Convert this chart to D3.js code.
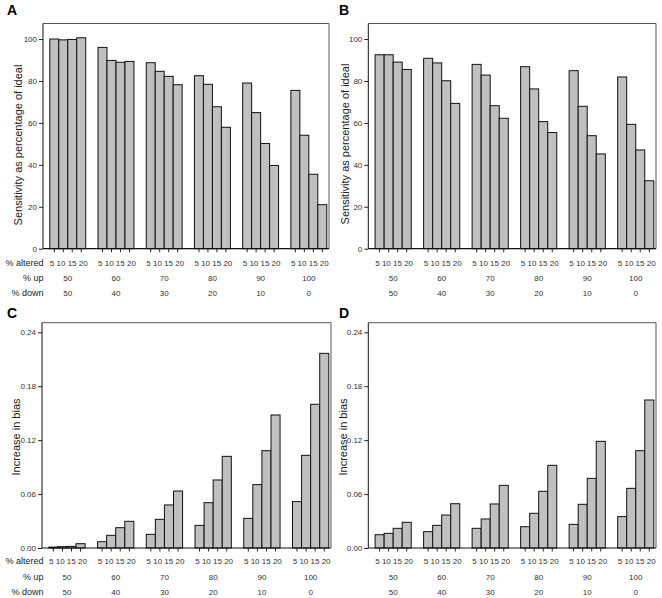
<!DOCTYPE html>
<html><head><meta charset="utf-8">
<script src="https://cdn.jsdelivr.net/npm/d3@7"></script>
<style>
body{margin:0;background:#fff;}
svg{display:block;font-family:"Liberation Sans",Arial,sans-serif;}
</style></head>
<body>
<svg id="c" width="662" height="598"></svg>
<script>
const altered = [5, 10, 15, 20];
const pctUp = [50, 60, 70, 80, 90, 100];
const pctDown = [50, 40, 30, 20, 10, 0];

// Sensitivity as percentage of ideal (A, B); rows = % up groups, cols = % altered
const sensA = [
  [100.0, 99.6, 99.8, 100.6],
  [96.0, 89.8, 88.9, 89.3],
  [88.7, 84.6, 82.2, 78.2],
  [82.5, 78.4, 67.7, 57.9],
  [79.0, 64.9, 50.2, 39.7],
  [75.5, 54.1, 35.5, 21.0]
];
const sensB = [
  [92.5, 92.5, 89.0, 85.5],
  [90.8, 88.6, 80.1, 69.3],
  [87.9, 82.8, 68.2, 62.2],
  [86.8, 76.2, 60.6, 55.4],
  [84.9, 67.9, 53.9, 45.2],
  [81.9, 59.3, 47.1, 32.4]
];
// Increase in bias (C, D)
const biasC = [
  [0.0010, 0.0015, 0.0018, 0.0048],
  [0.0070, 0.0141, 0.0226, 0.0297],
  [0.0152, 0.0319, 0.0479, 0.0634],
  [0.0252, 0.0504, 0.0757, 0.1020],
  [0.0330, 0.0705, 0.1083, 0.1480],
  [0.0516, 0.1031, 0.1599, 0.2166]
];
const biasD = [
  [0.0148, 0.0163, 0.0219, 0.0286],
  [0.0182, 0.0252, 0.0367, 0.0493],
  [0.0219, 0.0323, 0.0490, 0.0697],
  [0.0237, 0.0386, 0.0631, 0.0920],
  [0.0263, 0.0486, 0.0775, 0.1187],
  [0.0349, 0.0664, 0.1083, 0.1647]
];
const sensTicks = [0, 20, 40, 60, 80, 100];
const biasTicks = [0, 0.06, 0.12, 0.18, 0.24];

const svg = d3.select("#c");

const panels = [
  {letter:"A", data:sensA, x0:43, x1:329, y0:23.5, y1:248.7, ymax:107.4, ticks:sensTicks, fmt:d3.format("d"),
   title:"Sensitivity as percentage of ideal", tx:18, ty:145, rowLabels:true, lx:7, ly:15, rowY:[265.5,280.5,296]},
  {letter:"B", data:sensB, x0:368.3, x1:656, y0:23.5, y1:248.7, ymax:107.4, ticks:sensTicks, fmt:d3.format("d"),
   title:"Sensitivity as percentage of ideal", tx:345, ty:144, rowLabels:false, lx:339, ly:15, rowY:[265.5,280.5,296]},
  {letter:"C", data:biasC, x0:42, x1:331, y0:322.7, y1:548, ymax:0.2507, ticks:biasTicks, fmt:d3.format(".2f"),
   title:"Increase in bias", tx:16, ty:437, rowLabels:true, lx:7, ly:318, rowY:[563.5,579.5,594.5]},
  {letter:"D", data:biasD, x0:368.3, x1:656, y0:322.7, y1:548, ymax:0.2507, ticks:biasTicks, fmt:d3.format(".2f"),
   title:"Increase in bias", tx:343, ty:437, rowLabels:false, lx:339, ly:318, rowY:[563.5,579.5,594.5]}
];

panels.forEach(p => {
  const g = svg.append("g");
  const y = d3.scaleLinear().domain([0, p.ymax]).range([p.y1, p.y0]);
  const xg = d3.scaleBand().domain(pctUp).range([p.x0 + 6.8, p.x1 - 2.2]).paddingInner(0.255).paddingOuter(0);
  const xb = d3.scaleBand().domain(altered).range([0, xg.bandwidth()]).padding(0);

  // frame (top & right)
  g.append("path")
    .attr("d", `M${p.x0},${p.y0}H${p.x1}V${p.y1}`)
    .attr("fill","none").attr("stroke","#555").attr("stroke-width",1);

  // bars
  p.data.forEach((row, gi) => {
    g.selectAll(null).data(row).enter().append("rect")
      .attr("x", (d,i) => xg(pctUp[gi]) + xb(altered[i]))
      .attr("y", d => y(d))
      .attr("width", xb.bandwidth())
      .attr("height", d => y(0) - y(d))
      .attr("fill", "#c0c0c0")
      .attr("stroke", "#111")
      .attr("stroke-width", 1);
  });

  // y axis
  const ya = g.append("g").attr("transform", `translate(${p.x0},0)`)
    .call(d3.axisLeft(y).tickValues(p.ticks).tickFormat(p.fmt).tickSize(4).tickPadding(2));
  ya.select(".domain").attr("d", `M0,${p.y1}V${p.y0}`).attr("stroke","#111");
  ya.selectAll("text").attr("font-size", 8).attr("fill","#333").attr("font-family","Liberation Sans, Arial, sans-serif");
  ya.selectAll(".tick line").attr("stroke","#222");

  // bottom axis line
  g.append("line").attr("x1", p.x0).attr("x2", p.x1).attr("y1", p.y1).attr("y2", p.y1)
    .attr("stroke","#111").attr("stroke-width",1.2);
  // bottom ticks at bar centers
  pctUp.forEach(u => {
    altered.forEach(a => {
      const cx = xg(u) + xb(a) + xb.bandwidth()/2;
      g.append("line").attr("x1", cx).attr("x2", cx).attr("y1", p.y1).attr("y2", p.y1 + 3.5)
        .attr("stroke","#222");
    });
    const gc = xg(u) + xg.bandwidth()/2;
    g.append("text").attr("x", gc + 1).attr("y", p.rowY[0]).attr("text-anchor","middle")
      .attr("font-size", 8).attr("fill","#333").text(altered.join(" "));
  });
  pctUp.forEach((u,i) => {
    const gc = xg(u) + xg.bandwidth()/2;
    g.append("text").attr("x", gc).attr("y", p.rowY[1]).attr("text-anchor","middle")
      .attr("font-size", 8).attr("fill","#333").text(u);
    g.append("text").attr("x", gc).attr("y", p.rowY[2]).attr("text-anchor","middle")
      .attr("font-size", 8).attr("fill","#333").text(pctDown[i]);
  });

  if (p.rowLabels) {
    const rl = ["% altered", "% up", "% down"];
    rl.forEach((t,i) => {
      g.append("text").attr("x", 43.5).attr("y", p.rowY[i]).attr("text-anchor","end")
        .attr("font-size", 9).attr("fill","#222").text(t);
    });
  }

  // y title
  g.append("text").attr("transform", `translate(${p.tx},${p.ty}) rotate(-90)`)
    .attr("text-anchor","middle").attr("dy","0.35em")
    .attr("font-size", 11).attr("fill","#222").text(p.title);

  // panel letter
  g.append("text").attr("x", p.lx).attr("y", p.ly).attr("font-size", 14).attr("font-weight","bold")
    .attr("fill","#000").text(p.letter);
});
</script>
</body></html>
